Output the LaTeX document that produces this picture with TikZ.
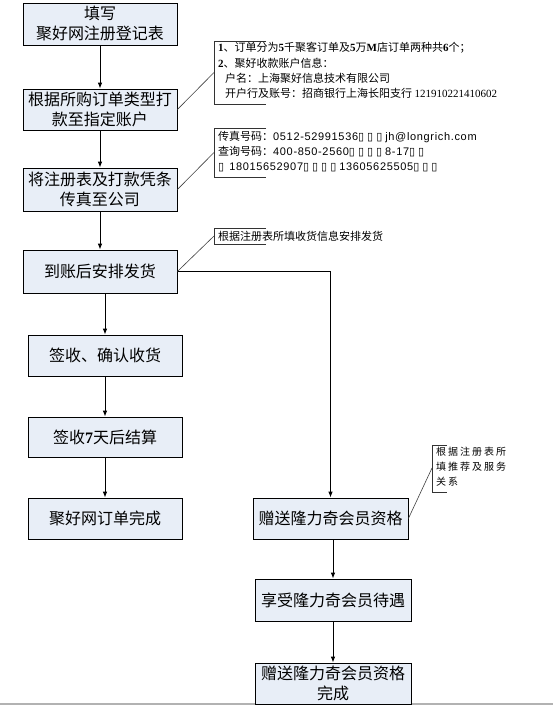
\documentclass[tikz,border=0pt]{standalone}
\usepackage{fontspec}
\setmainfont{Noto Sans CJK SC}
\newfontfamily\cjksp[LetterSpace=20]{Noto Sans CJK SC}
\newfontfamily\arl{Liberation Sans}
\newfontfamily\arlsp[LetterSpace=6]{Liberation Sans}
\newfontfamily\tms{Liberation Serif}
\newfontfamily\djv{DejaVu Sans}
\newcommand{\tofu}{{\djv\fontsize{11}{11}\selectfont ▯}\hspace{3pt}}
\newcommand{\bd}[1]{{\tms\bfseries #1}}
\usetikzlibrary{arrows.meta}
\definecolor{boxfill}{RGB}{232,238,247}
\tikzset{
  box/.style={draw=black, line width=0.8pt, fill=boxfill, minimum width=154pt,
    minimum height=42pt, inner sep=0pt, align=center,
    font=\fontsize{16}{20}\selectfont},
  arr/.style={-{Latex[length=6pt,width=4.5pt]}, line width=0.8pt},
  conn/.style={line width=0.6pt, draw=black!75},
  brk/.style={line width=0.9pt, draw=black!80},
  note/.style={anchor=west, inner sep=0pt, font=\fontsize{11}{12}\selectfont}
}
\begin{document}
\begin{tikzpicture}[x=1pt,y=-1pt]
\useasboundingbox (0,0) rectangle (553,705);
\draw[black!30, line width=1.5pt] (0,704) -- (553,704);
% main boxes
\node[box, minimum height=42pt] (b1) at (100,24) {填写\\聚好网注册登记表};
\node[box, minimum height=41pt] (b2) at (100,109.5) {根据所购订单类型打\\款至指定账户};
\node[box, minimum height=43pt] (b3) at (100,189.5) {将注册表及打款凭条\\传真至公司};
\node[box, minimum height=43pt] (b4) at (100,271.5) {到账后安排发货};
\node[box, minimum height=41pt] (b5) at (105,355.5) {签收、确认收货};
\node[box, minimum height=40pt] (b6) at (105,437) {签收\bd{7}天后结算};
\node[box, minimum height=41pt] (b7) at (105,518.5) {聚好网订单完成};
\node[box, minimum height=41pt, minimum width=155pt] (b8) at (330.5,518.5) {赠送隆力奇会员资格};
\node[box, minimum height=42pt, minimum width=156pt] (b9) at (333,600) {享受隆力奇会员待遇};
\node[box, minimum height=41pt, minimum width=156pt] (b10) at (333,683.5) {赠送隆力奇会员资格\\完成};
% arrows
\draw[arr] (b1) -- (b2);
\draw[arr] (b2) -- (b3);
\draw[arr] (b3) -- (b4);
\draw[arr] (b5.north |- b4.south) -- (b5.north);
\draw[arr] (b5) -- (b6);
\draw[arr] (b6) -- (b7);
\draw[arr] (b4.east) -| (b8.north);
\draw[arr] (b9.north |- b8.south) -- (b9.north);
\draw[arr] (b9) -- (b10);
% annotation 1
\coordinate (a1) at (214,72.5);
\draw[brk] (266,41) -- (214,41) -- (214,104) -- (266,104);
\draw[conn] (b2.east) -- (a1);
\node[note] (t1a) at (218,48) {\bd{1}、订单分为\bd{5}千聚客订单及\bd{5}万\bd{M}店订单两种共\bd{6}个；};
\node[note] (t1b) at (218,63) {\bd{2}、聚好收款账户信息：};
\node[note] (t1c) at (225,78) {户名：上海聚好信息技术有限公司};
\node[note] (t1d) at (225,93) {开户行及账号：招商银行上海长阳支行 {\tms 121910221410602}};
% annotation 2
\coordinate (a2) at (214,152.5);
\draw[brk] (266,128) -- (214,128) -- (214,177) -- (266,177);
\draw[conn] (b3.east) -- (a2);
\node[note] (t2a) at (218,137) {传真号码：{\arlsp 0512-52991536}\tofu\tofu\tofu{\arlsp jh@longrich.com}};
\node[note] (t2b) at (218,152) {查询号码：{\arlsp 400-850-2560}\tofu\tofu\tofu\tofu{\arlsp 8-17}\tofu\tofu};
\node[note] (t2c) at (218,167) {\tofu\hspace{2pt}{\arlsp 18015652907}\tofu\tofu\tofu\tofu{\arlsp 13605625505}\tofu\tofu\tofu};
% annotation 3
\coordinate (a3) at (214,236);
\draw[brk] (266,228) -- (214,228) -- (214,244) -- (266,244);
\draw[conn] (b4.east) -- (a3);
\node[note] (t3) at (218,236) {根据注册表所填收货信息安排发货};
% annotation 4
\coordinate (a4) at (432,468);
\draw[brk] (447,445) -- (432,445) -- (432,492) -- (447,492);
\draw[conn] (b8.east) -- (a4);
\node[note, font=\cjksp\fontsize{10}{12}\selectfont] (t4a) at (436,452) {根据注册表所};
\node[note, font=\cjksp\fontsize{10}{12}\selectfont] (t4b) at (436,467) {填推荐及服务};
\node[note, font=\cjksp\fontsize{10}{12}\selectfont] (t4c) at (436,482) {关系};
\end{tikzpicture}
\end{document}
